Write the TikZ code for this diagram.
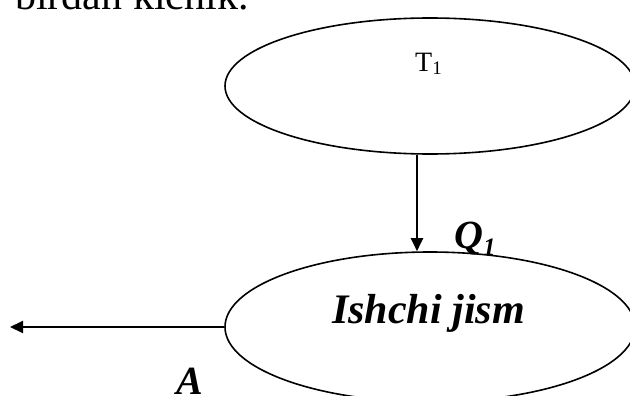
\documentclass[tikz,border=0pt]{standalone}
\usepackage{fontspec}
\setmainfont{Liberation Serif}
\usetikzlibrary{shapes.geometric,arrows.meta}
\tikzset{
  oval/.style={draw=black, line width=1.6pt, ellipse, inner sep=0pt},
  flow/.style={draw=black, line width=2pt, -{Triangle[length=13pt,width=12pt]}},
  lbl/.style={inner sep=0pt, anchor=base west}
}
\begin{document}
\begin{tikzpicture}[x=1pt,y=-1pt]
\useasboundingbox (0,0) rectangle (630,396);
\clip (0,0) rectangle (630,396);
% top text (cut off at the top edge, as in the reference)
\node[lbl] (head) at (15,10) {\fontsize{42}{42}\selectfont birdan kichik.};
% ellipses
\node[oval, minimum width=410pt, minimum height=136pt] (top) at (430,86) {};
\node[oval, minimum width=410pt, minimum height=150pt] (bot) at (430,327) {};
% labels
\node[lbl] (t1) at (415,72) {\fontsize{28}{28}\selectfont T\raisebox{-3pt}{\fontsize{19}{19}\selectfont 1}};
\node[lbl] (work) at (332,323) {\fontsize{42}{42}\selectfont\bfseries\itshape Ishchi jism};
\node[lbl] (q1) at (454,248) {\fontsize{40}{40}\selectfont\bfseries\itshape Q\raisebox{-7pt}{\fontsize{25}{25}\selectfont 1}};
\node[lbl] (a) at (176,394) {\fontsize{40}{40}\selectfont\bfseries\itshape A};
% connectors
\coordinate (v) at (417,0);
\coordinate (out) at (10,327);
\draw[flow] (v |- top.south) -- (v |- bot.north);
\draw[flow] (bot.west) -- (out);
\end{tikzpicture}
\end{document}
